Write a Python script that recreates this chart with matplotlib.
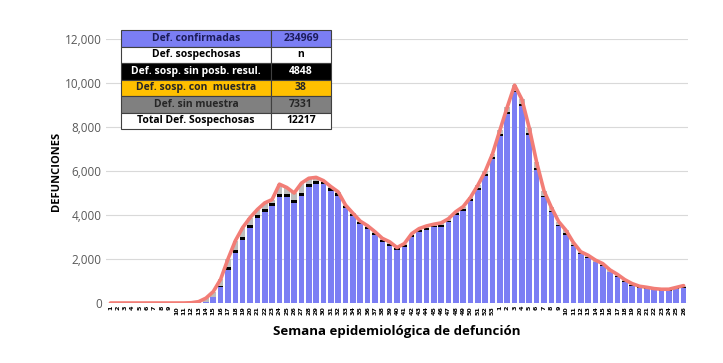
import numpy as np
import matplotlib
matplotlib.use("Agg")
import matplotlib.pyplot as plt

# ---- data ----
weeks_2020 = [str(w) for w in range(1, 54)]
weeks_2021 = [str(w) for w in range(1, 27)]
week_labels = weeks_2020 + weeks_2021

confirmadas = [
    0, 0, 0, 0, 0, 0, 0, 0, 0, 0, 0, 4, 30, 50, 260, 710, 1520, 2280, 2860, 3420,
    3870, 4130, 4430, 4820, 4810, 4540, 4860, 5270, 5430, 5390, 5100, 4880, 4300, 3940, 3580, 3370,
    3070, 2770, 2610, 2400, 2560, 3010, 3240, 3340, 3440, 3465, 3660, 4000, 4190, 4630, 5130, 5770, 6540,
    7590, 8590, 9570, 8965, 7630, 6040, 4800, 4130, 3480, 3110, 2590, 2215, 2060, 1845, 1700, 1390,
    1200, 975, 795, 685, 645, 595, 565, 565, 640, 700,
]
sin_resultado = [
    0, 0, 0, 0, 0, 0, 0, 0, 0, 0, 0, 0, 5, 10, 30, 60, 100, 120, 130, 130,
    130, 130, 130, 130, 130, 130, 130, 120, 115, 110, 110, 110, 110, 105, 100, 100,
    100, 90, 90, 80, 80, 80, 80, 80, 80, 80, 80, 80, 80, 80, 80, 80, 80,
    80, 80, 80, 80, 80, 80, 80, 70, 65, 60, 50, 45, 40, 35, 30, 30,
    30, 25, 25, 25, 25, 25, 25, 25, 30, 40,
]
con_muestra = [0] * 72 + [2, 3, 4, 5, 6, 8, 10]
sin_muestra = [
    0, 0, 0, 0, 0, 0, 0, 0, 0, 0, 0, 8, 25, 160, 230, 310, 380, 430, 440, 330,
    250, 290, 140, 450, 310, 330, 460, 280, 165, 60, 80, 60, 40, 35, 40, 40,
    70, 80, 80, 40, 60, 60, 60, 80, 60, 95, 90, 70, 110, 90, 140, 130, 160,
    180, 230, 250, 205, 240, 280, 220, 150, 155, 130, 110, 70, 70, 70, 60, 80,
    70, 60, 60, 50, 40, 30, 30, 30, 30, 40,
]

table_labels = ["Def. confirmadas", "Def. sospechosas", "Def. sosp. sin posb. resul.",
                "Def. sosp. con  muestra", "Def. sin muestra", "Total Def. Sospechosas"]
table_values = ["234969", "n", "4848", "38", "7331", "12217"]

# ---- style ----
BLUE = "#7b7ef4"
BLACK = "#000000"
ORANGE = "#ffc000"
GRAY = "#bdbdbd"
RED = "#f27d76"
FONT = ["Open Sans", "DejaVu Sans"]
plt.rcParams["font.family"] = FONT

fig = plt.figure(figsize=(7.23, 3.63), dpi=100)
ax = fig.add_axes([106 / 723, 1 - 303 / 363, 582 / 723, 264 / 363])

x = np.arange(len(week_labels))
c = np.array(confirmadas)
b = np.array(sin_resultado)
o = np.array(con_muestra)
g = np.array(sin_muestra)
w = 0.76
ax.bar(x, c, width=w, color=BLUE, zorder=2)
ax.bar(x, b, width=w, bottom=c, color=BLACK, zorder=2)
ax.bar(x, o, width=w, bottom=c + b, color=ORANGE, zorder=2)
ax.bar(x, g, width=w, bottom=c + b + o, color=GRAY, zorder=2)
total = c + b + o + g
ax.plot(x, total, color=RED, lw=2.6, solid_joinstyle="round", solid_capstyle="round", zorder=3)

ax.set_xlim(-0.6, len(x) - 0.4)
ax.set_ylim(0, 12000)
ax.set_yticks(np.arange(0, 12001, 2000))
ax.set_yticklabels([f"{v:,}" for v in range(0, 12001, 2000)], color="#595959", fontsize=8.5)
ax.yaxis.grid(True, color="#d9d9d9", lw=0.8, zorder=0)
ax.set_axisbelow(True)
ax.set_xticks(x)
ax.set_xticklabels(week_labels, rotation=90, fontsize=4.6, color="black",
                   fontweight="bold", family="DejaVu Sans")
ax.tick_params(axis="both", length=0, pad=3)
ax.tick_params(axis="x", pad=2)
for s in ax.spines.values():
    s.set_visible(False)

ax.set_xlabel("Semana epidemiológica de defunción", fontsize=9.5, fontweight="bold", labelpad=7)
ax.set_ylabel("DEFUNCIONES", fontsize=8, fontweight="bold")
ax.yaxis.set_label_coords(-0.075, 0.5)

# ---- summary table ----
row_colors = [BLUE, "white", BLACK, ORANGE, "#808080", "white"]
text_colors = ["#1c1c5a", "black", "white", "#262626", "#262626", "black"]
cells = [[lab, val] for lab, val in zip(table_labels, table_values)]
tbl = ax.table(cellText=cells, cellLoc="center",
               bbox=[(121 - 106) / 582, (303 - 129) / 264, 210 / 582, 99 / 264],
               colWidths=[150 / 210, 60 / 210])
tbl.auto_set_font_size(False)
for (r, col), cell in tbl.get_celld().items():
    cell.set_facecolor(row_colors[r])
    cell.set_edgecolor("#404040")
    cell.set_linewidth(0.8)
    cell.get_text().set_color(text_colors[r])
    cell.get_text().set_fontsize(7.5)
    cell.get_text().set_fontweight("bold")
tbl.set_zorder(5)

fig.savefig("out.png", dpi=100, facecolor="white")
